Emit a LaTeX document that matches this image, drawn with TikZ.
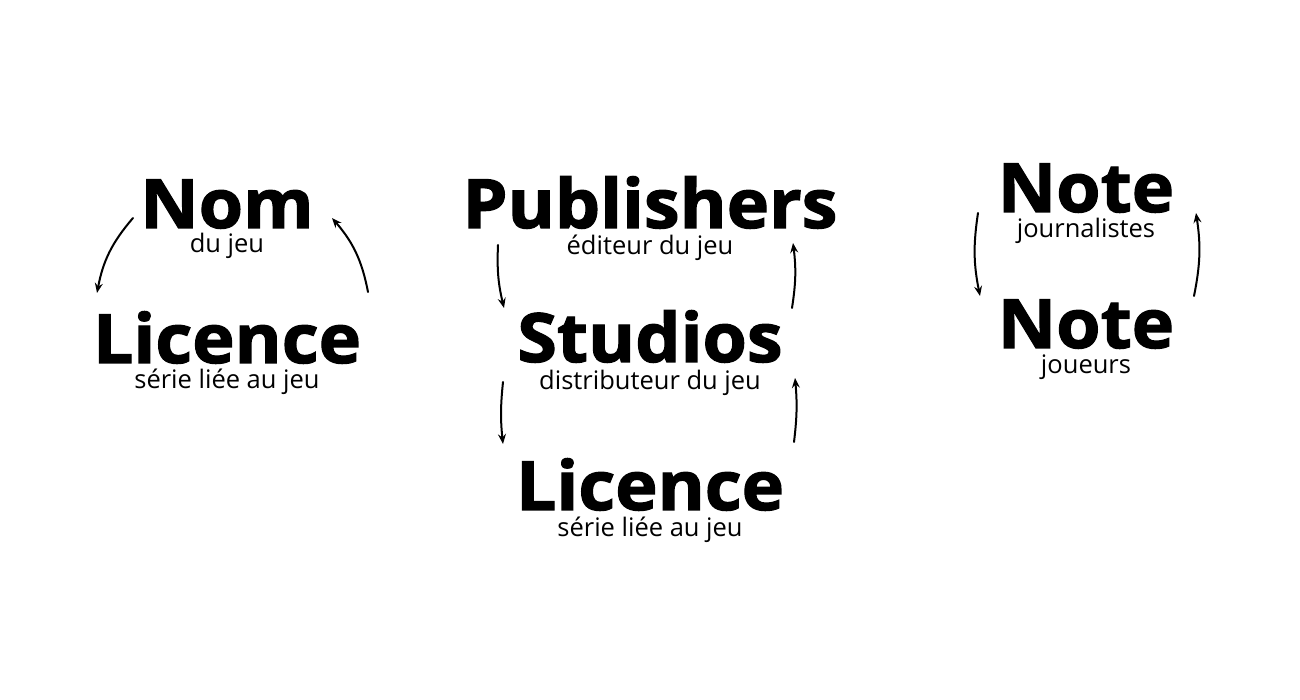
\documentclass[tikz,border=0pt]{standalone}
\usepackage{fontspec}
\setmainfont{Open Sans}[BoldFeatures={FakeBold=1.8,FakeStretch=1.055}]
\usetikzlibrary{arrows.meta}
\begin{document}
\begin{tikzpicture}[x=1pt,y=1pt,
  title/.style={anchor=base,inner sep=0pt,text depth=0pt,font=\bfseries\fontsize{68}{68}\selectfont},
  sub/.style={anchor=base,inner sep=0pt,text height=10pt,font=\fontsize{25.5}{25.5}\selectfont},
  arr/.style={line width=2pt,-{Stealth[length=10pt,width=8pt,inset=3.5pt]},line cap=round}]
\useasboundingbox[fill=white] (0,0) rectangle (1300,700);
% left column
\node[title] (nom) at (227,472) {Nom};
\node[sub] (nomsub) at (227,447) {du jeu};
\node[title] (licA) at (227,337) {Licence};
\node[sub] (licAsub) at (227,311) {série liée au jeu};
% middle column
\node[title] (pub) at (650,472) {Publishers};
\node[sub] (pubsub) at (650,445) {éditeur du jeu};
\node[title] (stu) at (650,338) {Studios};
\node[sub] (stusub) at (650,310) {distributeur du jeu};
\node[title] (licB) at (650,190) {Licence};
\node[sub] (licBsub) at (650,163) {série liée au jeu};
% right column
\node[title] (noteA) at (1086,488) {Note};
\node[sub] (noteAsub) at (1086,462) {journalistes};
\node[title] (noteB) at (1086,352) {Note};
\node[sub] (noteBsub) at (1086,326) {joueurs};
% arrow end points
\coordinate (a1s) at (133,482); \coordinate (a1e) at (97,407);
\coordinate (a2s) at (368,408); \coordinate (a2e) at (332,482);
\coordinate (b1s) at (498,455); \coordinate (b1e) at (504,392);
\coordinate (b2s) at (792,392); \coordinate (b2e) at (793,457);
\coordinate (b3s) at (503,318); \coordinate (b3e) at (503,256);
\coordinate (b4s) at (794,258); \coordinate (b4e) at (795,322);
\coordinate (c1s) at (978,487); \coordinate (c1e) at (980,404);
\coordinate (c2s) at (1194,404); \coordinate (c2e) at (1196,487);
\draw[arr] (a1s) to[bend right=15] (a1e);
\draw[arr] (a2s) to[bend right=15] (a2e);
\draw[arr] (b1s) to[bend right=8] (b1e);
\draw[arr] (b2s) to[bend right=8] (b2e);
\draw[arr] (b3s) to[bend right=6] (b3e);
\draw[arr] (b4s) to[bend right=6] (b4e);
\draw[arr] (c1s) to[bend right=10] (c1e);
\draw[arr] (c2s) to[bend right=10] (c2e);
\end{tikzpicture}
\end{document}
